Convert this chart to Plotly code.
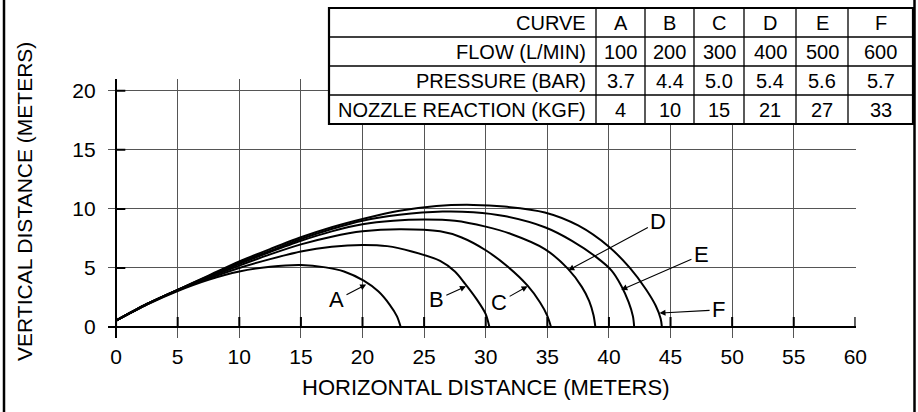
import plotly.graph_objects as go

# ---------------- data ----------------
curve_names = ["A", "B", "C", "D", "E", "F"]
flow_l_min = [100, 200, 300, 400, 500, 600]
pressure_bar = [3.7, 4.4, 5.0, 5.4, 5.6, 5.7]
nozzle_reaction_kgf = [4, 10, 15, 21, 27, 33]
row_labels = ["CURVE", "FLOW (L/MIN)", "PRESSURE (BAR)", "NOZZLE REACTION (KGF)"]

x_ticks = [0, 5, 10, 15, 20, 25, 30, 35, 40, 45, 50, 55, 60]
y_ticks = [0, 5, 10, 15, 20]

curve_a_x = [0, 2.5, 5, 7.5, 10, 12.5, 15, 17, 18.5, 20.1, 21.3, 22.2, 22.8, 23.1]
curve_a_y = [0.55, 1.9, 3.05, 4.0, 4.7, 5.1, 5.25, 5.05, 4.7, 3.92, 3.0, 1.9, 0.9, 0]

curve_b_x = [0, 2.5, 5, 7.5, 10, 12.5, 15, 17.5, 20, 22, 24, 26.3, 27.5, 28.3, 29.3, 30.0, 30.3]
curve_b_y = [0.55, 1.9, 3.1, 4.1, 5.0, 5.75, 6.4, 6.8, 6.95, 6.85, 6.4, 5.6, 4.7, 3.7, 2.3, 1.1, 0]

curve_c_x = [0, 2.5, 5, 7.5, 10, 12.5, 15, 17.5, 20, 23, 26.3, 28, 30, 31.8, 33.4, 34.4, 35.0, 35.3]
curve_c_y = [0.55, 1.95, 3.15, 4.2, 5.2, 6.15, 7.0, 7.65, 8.1, 8.28, 8.1, 7.6, 6.5, 5.1, 3.5, 2.1, 0.95, 0]

curve_d_x = [0, 2.5, 5, 7.5, 10, 12.5, 15, 17.5, 20, 22.5, 25, 27.5, 30, 32, 34.8, 36.7, 37.8, 38.4, 38.75, 38.9]
curve_d_y = [0.55, 1.95, 3.15, 4.25, 5.35, 6.35, 7.3, 8.1, 8.7, 9.0, 9.1, 9.0, 8.5, 7.9, 6.6, 4.9, 3.4, 2.2, 1.0, 0]

curve_e_x = [0, 2.5, 5, 7.5, 10, 12.5, 15, 17.5, 20, 23, 26.5, 29, 31.5, 34.8, 37, 39, 40.2, 41.0, 41.6, 41.95, 42.05]
curve_e_y = [0.55, 1.95, 3.15, 4.3, 5.45, 6.45, 7.45, 8.3, 9.0, 9.5, 9.78, 9.72, 9.4, 8.45, 7.3, 5.9, 4.8, 3.5, 2.1, 0.9, 0]

curve_f_x = [0, 2.5, 5, 7.5, 10, 12.5, 15, 17.5, 20, 23, 26, 29, 31.5, 34.8, 37.5, 40, 41.7, 43, 43.8, 44.2, 44.3]
curve_f_y = [0.55, 1.95, 3.15, 4.35, 5.55, 6.6, 7.6, 8.45, 9.15, 9.85, 10.25, 10.34, 10.2, 9.7, 8.6, 6.8, 5.0, 3.2, 1.8, 0.7, 0]

all_x = [curve_a_x, curve_b_x, curve_c_x, curve_d_x, curve_e_x, curve_f_x]
all_y = [curve_a_y, curve_b_y, curve_c_y, curve_d_y, curve_e_y, curve_f_y]

# ---------------- layout constants (positions / styles) ----------------
W, H = 918, 412
FONT = "Liberation Sans, Arial, Helvetica, sans-serif"
PLOT_L, PLOT_R, PLOT_T, PLOT_B = 107.7, 855.6, 79, 338


def px(xp):
    return xp / W


def py(yp):
    return 1 - yp / H


# label (tail) positions and arrow tips in data units
label_pos = {"A": (17.9, 2.3), "B": (26.0, 2.3), "C": (31.1, 2.1),
             "D": (44.0, 8.9), "E": (47.5, 6.1), "F": (48.9, 1.45)}
arrow_tip = {"A": (20.3, 3.6), "B": (28.4, 3.45), "C": (33.4, 3.45),
             "D": (36.7, 4.8), "E": (41.0, 3.15), "F": (44.1, 1.18)}

# table geometry in pixels
TBL_L, TBL_R, TBL_T = 329, 913, 8
ROW_H = 29
COL_EDGES = [329, 596, 645, 694, 744, 796, 848, 913]

fig = go.Figure()
for name, xs, ys in zip(curve_names, all_x, all_y):
    fig.add_trace(go.Scatter(
        x=xs, y=ys, mode="lines", name=name, hoverinfo="skip",
        line=dict(color="black", width=2, shape="spline", smoothing=0.8)))

shapes = []
# inside tick marks
for v in x_ticks:
    shapes.append(dict(type="line", xref="x", yref="y", x0=v, x1=v, y0=0, y1=0.85,
                       line=dict(color="black", width=2), layer="above"))
for v in y_ticks:
    shapes.append(dict(type="line", xref="x", yref="y", x0=0, x1=0.75, y0=v, y1=v,
                       line=dict(color="black", width=2), layer="above"))

# frame lines
for xp in (4, 914.5):
    shapes.append(dict(type="line", xref="paper", yref="paper", x0=px(xp), x1=px(xp), y0=0, y1=1,
                       line=dict(color="black", width=2.5), layer="above"))

# table
n_rows = len(row_labels)
tbl_b = TBL_T + n_rows * ROW_H
shapes.append(dict(type="rect", xref="paper", yref="paper", x0=px(TBL_L), x1=px(TBL_R),
                   y0=py(tbl_b), y1=py(TBL_T), fillcolor="white",
                   line=dict(color="black", width=2.2), layer="above"))
for r in range(1, n_rows):
    yy = py(TBL_T + r * ROW_H)
    shapes.append(dict(type="line", xref="paper", yref="paper", x0=px(TBL_L), x1=px(TBL_R),
                       y0=yy, y1=yy, line=dict(color="black", width=1.3), layer="above"))
for c in COL_EDGES[1:-1]:
    shapes.append(dict(type="line", xref="paper", yref="paper", x0=px(c), x1=px(c),
                       y0=py(tbl_b), y1=py(TBL_T), line=dict(color="black", width=1.3), layer="above"))

annotations = []
table_rows = [curve_names,
              [str(v) for v in flow_l_min],
              [f"{v:.1f}" for v in pressure_bar],
              [str(v) for v in nozzle_reaction_kgf]]
for r, (lab, vals) in enumerate(zip(row_labels, table_rows)):
    yc = py(TBL_T + r * ROW_H + ROW_H / 2 + 0.5)
    annotations.append(dict(xref="paper", yref="paper", x=px(COL_EDGES[1] - 8), y=yc,
                            text=lab, showarrow=False, xanchor="right", yanchor="middle",
                            font=dict(family=FONT, size=20, color="black")))
    for c, v in enumerate(vals):
        xc = px((COL_EDGES[c + 1] + COL_EDGES[c + 2]) / 2)
        annotations.append(dict(xref="paper", yref="paper", x=xc, y=yc, text=v, showarrow=False,
                                xanchor="center", yanchor="middle",
                                font=dict(family=FONT, size=20, color="black")))

# curve labels with arrows
for name in curve_names:
    tx, ty = label_pos[name]
    hx, hy = arrow_tip[name]
    annotations.append(dict(x=hx, y=hy, xref="x", yref="y", ax=tx, ay=ty, axref="x", ayref="y",
                            text=name, showarrow=True, arrowhead=2, arrowsize=1.1, arrowwidth=1.1,
                            arrowcolor="black", standoff=0, startstandoff=1,
                            font=dict(family=FONT, size=22, color="black")))

# axis titles
annotations.append(dict(xref="paper", yref="paper", x=px(486), y=py(387), text="HORIZONTAL DISTANCE (METERS)",
                        showarrow=False, xanchor="center", yanchor="middle",
                        font=dict(family=FONT, size=22, color="black")))
annotations.append(dict(xref="paper", yref="paper", x=px(24), y=py(202), text="VERTICAL DISTANCE (METERS)",
                        showarrow=False, xanchor="center", yanchor="middle", textangle=-90,
                        font=dict(family=FONT, size=21, color="black")))

fig.update_layout(
    width=W, height=H, margin=dict(l=0, r=0, t=0, b=0),
    paper_bgcolor="white", plot_bgcolor="white", showlegend=False,
    font=dict(family=FONT, color="black"),
    xaxis=dict(domain=[px(PLOT_L), px(PLOT_R)], range=[-0.68, 60.02], tickmode="array",
               tickvals=x_ticks, ticks="", showgrid=True, gridcolor="#555", gridwidth=1,
               zeroline=True, zerolinecolor="black", zerolinewidth=1.3, showline=False,
               tickfont=dict(family=FONT, size=21, color="black"), ticklabelstandoff=4,
               automargin=False, fixedrange=True),
    yaxis=dict(domain=[py(PLOT_B), py(PLOT_T)], range=[-0.93, 21.0], tickmode="array",
               tickvals=y_ticks, ticks="", showgrid=True, gridcolor="#555", gridwidth=1,
               zeroline=True, zerolinecolor="black", zerolinewidth=1.6, showline=False,
               tickfont=dict(family=FONT, size=21, color="black"), ticklabelstandoff=11,
               automargin=False, fixedrange=True),
    shapes=shapes, annotations=annotations,
)

fig.write_html("out.html", config={"displayModeBar": False, "staticPlot": True},
               post_script="document.body.style.margin='0px';")
